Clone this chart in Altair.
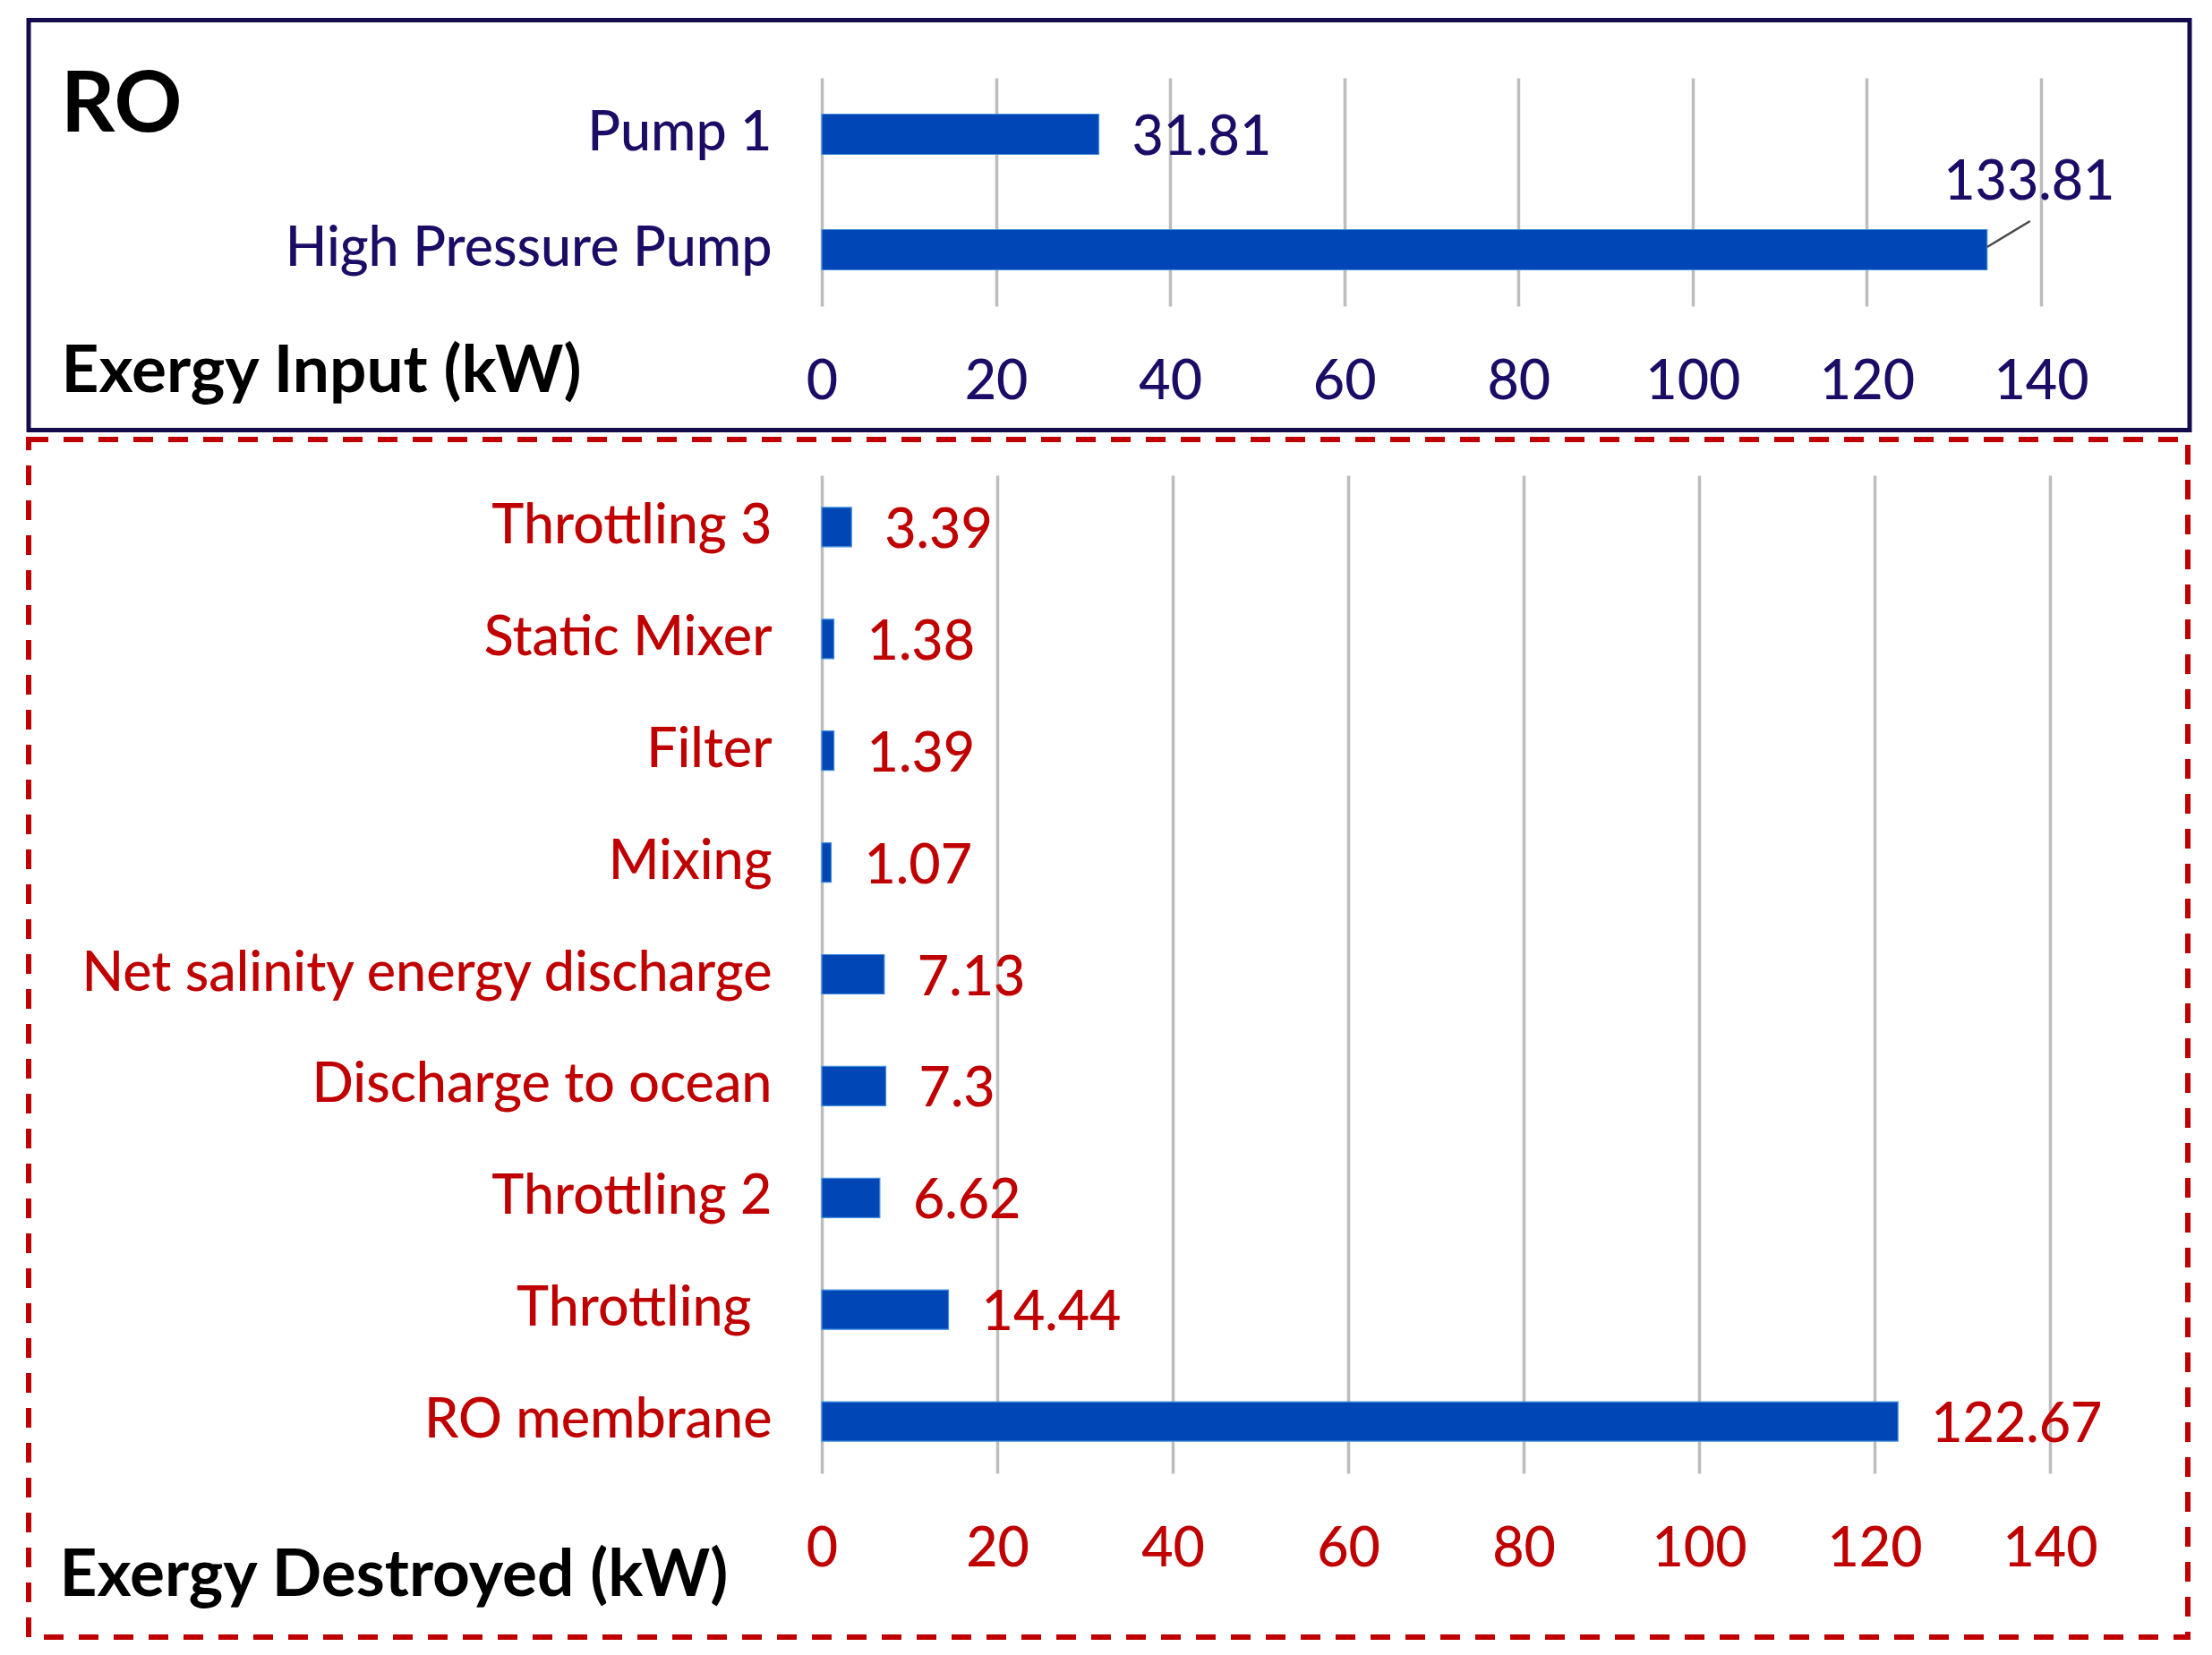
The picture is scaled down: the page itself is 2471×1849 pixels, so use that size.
import altair as alt
import pandas as pd

# ---------------- data ----------------
input_items = ["Pump 1", "High Pressure Pump"]
input_values = [31.81, 133.81]

destroyed_items = [
    "Throttling 3",
    "Static Mixer",
    "Filter",
    "Mixing",
    "Net salinity energy discharge",
    "Discharge to ocean",
    "Throttling 2",
    "Throttling\u00a0\u2009\u200b",
    "RO membrane",
]
destroyed_values = [3.39, 1.38, 1.39, 1.07, 7.13, 7.3, 6.62, 14.44, 122.67]

x_ticks = [0, 20, 40, 60, 80, 100, 120, 140]

# ---------------- styles ----------------
FONT = "Lato"
NAVY = "#1d0c66"
BORDER_NAVY = "#140a4e"
RED = "#c00000"
BLUE = "#0046b4"
GRID = "#bdbdbd"
LABEL_FS = 61
LABEL_FW = 500
TITLE_FS = 73

top_df = pd.DataFrame({"item": input_items, "value": input_values})
bot_df = pd.DataFrame({"item": destroyed_items, "value": destroyed_values})

TW, TH = 1362, 255
BW, BH = 1372, 1115


def x_enc(title, label_color, title_x, title_y, label_pad):
    return alt.X(
        "value:Q",
        scale=alt.Scale(domain=[0, 140], nice=False, zero=True),
        axis=alt.Axis(
            values=x_ticks,
            title=title,
            titleX=title_x,
            titleY=title_y,
            titleAlign="left",
            titleBaseline="alphabetic",
            titleFontSize=TITLE_FS,
            titleFontWeight="bold",
            titleColor="black",
            titleFont=FONT,
            labelColor=label_color,
            labelFontSize=LABEL_FS,
            labelFontWeight=LABEL_FW,
            labelFont=FONT,
            labelPadding=label_pad,
            labelFlush=False,
            grid=True,
            gridColor=GRID,
            gridWidth=3.5,
            domain=False,
            ticks=False,
            tickSize=0,
        ),
    )


def y_enc(order, label_color, p_inner, p_outer):
    return alt.Y(
        "item:N",
        sort=order,
        scale=alt.Scale(paddingInner=p_inner, paddingOuter=p_outer),
        axis=alt.Axis(
            title=None,
            labelColor=label_color,
            labelFontSize=LABEL_FS,
            labelFontWeight=LABEL_FW,
            labelFont=FONT,
            labelPadding=56,
            labelLimit=3000,
            ticks=False,
            tickSize=0,
            domain=False,
            grid=False,
        ),
    )


# ---------------- top panel: exergy input ----------------
tx = x_enc("Exergy Input (kW)", NAVY, -850, 95, 55)
ty = y_enc(input_items, NAVY, 0.651, 0.314)

top_base = alt.Chart(top_df).encode(x=tx, y=ty)

top_bars = top_base.mark_bar(color=BLUE, stroke="#3f8fe0", strokeWidth=1.2)

top_lbl_1 = top_base.transform_filter(alt.datum.item == "Pump 1").mark_text(
    align="left", baseline="alphabetic", dx=37, dy=23,
    fontSize=LABEL_FS, fontWeight=LABEL_FW, font=FONT, color=NAVY,
).encode(text=alt.Text("value:Q"))

top_lbl_2 = top_base.transform_filter(alt.datum.item == "High Pressure Pump").mark_text(
    align="center", baseline="alphabetic", dx=47, dy=-56,
    fontSize=LABEL_FS, fontWeight=LABEL_FW, font=FONT, color=NAVY,
).encode(text=alt.Text("value:Q"))

top_leader = alt.Chart(top_df).transform_filter(
    alt.datum.item == "High Pressure Pump"
).mark_rule(
    color="#4a4a4a", strokeWidth=2.5, x2Offset=48, yOffset=-3, y2Offset=-32
).encode(
    x=tx, x2="value:Q", y=ty, y2="item:N"
)

top_border = alt.Chart(pd.DataFrame({"b": [0]})).mark_rect(
    fillOpacity=0, stroke=BORDER_NAVY, strokeWidth=5
).encode(
    x=alt.value(-886), x2=alt.value(1528), y=alt.value(-64.5), y2=alt.value(393.5)
)

ro_title = alt.Chart(pd.DataFrame({"t": ["RO"]})).mark_text(
    align="left", baseline="alphabetic", fontSize=94, fontWeight="bold",
    font=FONT, color="black",
).encode(text="t:N", x=alt.value(-850), y=alt.value(60))

top = alt.layer(
    top_border, top_bars, top_leader, top_lbl_1, top_lbl_2, ro_title
).properties(width=TW, height=TH)

# ---------------- bottom panel: exergy destroyed ----------------
bx = x_enc("Exergy Destroyed (kW)", RED, -852, 136, 55)
by = y_enc(destroyed_items, RED, 0.648, 0.2875)

bot_base = alt.Chart(bot_df).encode(x=bx, y=by)

bot_bars = bot_base.mark_bar(color=BLUE, stroke="#3f8fe0", strokeWidth=1.2)

bot_lbl = bot_base.mark_text(
    align="left", baseline="alphabetic", dx=37, dy=23,
    fontSize=LABEL_FS, fontWeight=LABEL_FW, font=FONT, color=RED,
).encode(text=alt.Text("value:Q"))

bot_border = alt.Chart(pd.DataFrame({"b": [0]})).mark_rect(
    fillOpacity=0, stroke=RED, strokeWidth=6, strokeDash=[22, 17]
).encode(
    x=alt.value(-886), x2=alt.value(1526), y=alt.value(-40), y2=alt.value(1298)
)

bottom = alt.layer(bot_border, bot_bars, bot_lbl).properties(width=BW, height=BH)

chart = alt.vconcat(top, bottom, spacing=3).properties(
    padding={"left": 20, "top": 11, "right": 5, "bottom": 5},
    background="white",
).configure_view(stroke="transparent")

chart.save("out.html", embed_options={"renderer": "svg", "actions": False})
